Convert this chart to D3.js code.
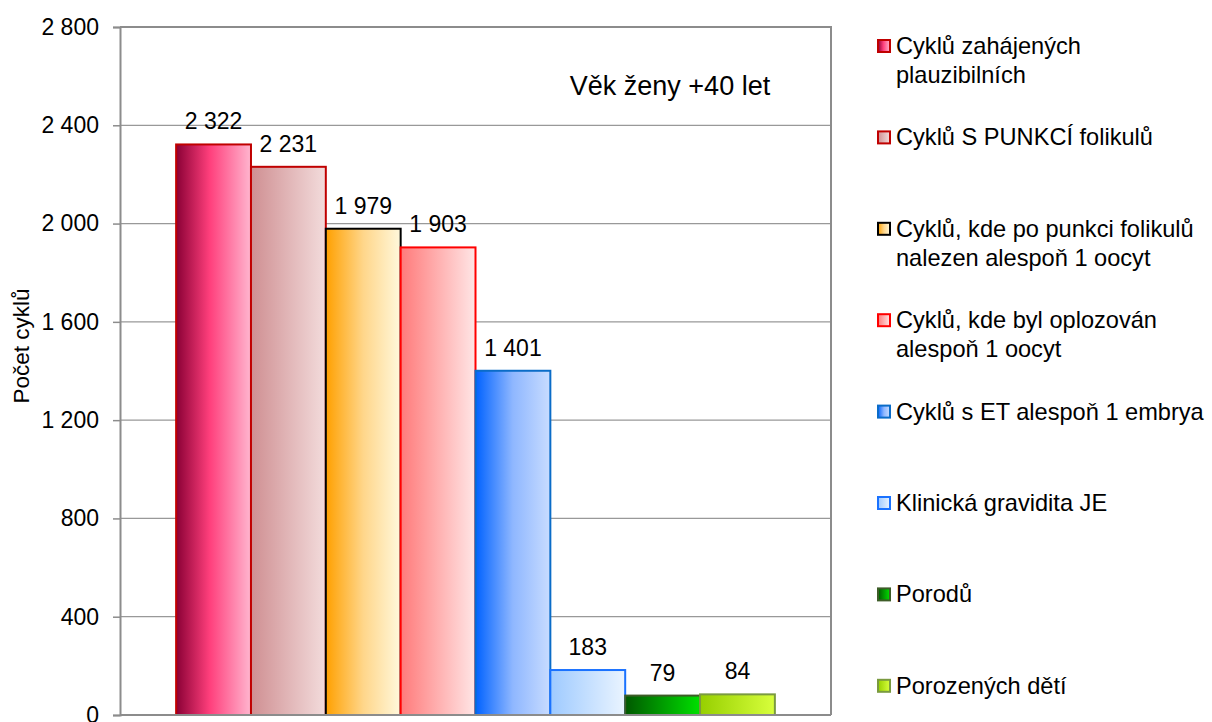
<!DOCTYPE html>
<html>
<head>
<meta charset="utf-8">
<script src="https://cdn.jsdelivr.net/npm/d3@7"></script>
<style>
  html, body { margin: 0; padding: 0; background: #fff; }
  svg { display: block; font-family: "Liberation Sans", Arial, sans-serif; }
</style>
</head>
<body>
<svg id="chart" width="1212" height="722"></svg>
<script>
// ---- data ----
const seriesNames = [
  "Cyklů zahájených plauzibilních",
  "Cyklů S PUNKCÍ folikulů",
  "Cyklů, kde po punkci folikulů nalezen alespoň 1 oocyt",
  "Cyklů, kde byl oplozován alespoň 1 oocyt",
  "Cyklů s ET alespoň 1 embrya",
  "Klinická gravidita JE",
  "Porodů",
  "Porozených dětí"
];
const legendLines = [
  ["Cyklů zahájených", "plauzibilních"],
  ["Cyklů S PUNKCÍ folikulů"],
  ["Cyklů, kde po punkci folikulů", "nalezen alespoň 1 oocyt"],
  ["Cyklů, kde byl oplozován", "alespoň 1 oocyt"],
  ["Cyklů s ET alespoň 1 embrya"],
  ["Klinická gravidita JE"],
  ["Porodů"],
  ["Porozených dětí"]
];
const values = [2322, 2231, 1979, 1903, 1401, 183, 79, 84];
const yTicks = [0, 400, 800, 1200, 1600, 2000, 2400, 2800];
const chartTitle = "Věk ženy +40 let";
const yAxisTitle = "Počet cyklů";

// styles (not data)
const gradStops = [
  [["0", "#8a0035"], ["0.45", "#ff3f7c"], ["1", "#ffb6cf"]],
  [["0", "#cf8f92"], ["1", "#f3dcdc"]],
  [["0", "#ffa000"], ["0.5", "#ffd68a"], ["1", "#fff8dc"]],
  [["0", "#ff7a7a"], ["1", "#ffe6e6"]],
  [["0", "#0062ff"], ["0.5", "#8fb7ff"], ["1", "#c8dcff"]],
  [["0", "#9ecaff"], ["1", "#eaf4ff"]],
  [["0", "#005800"], ["1", "#00e000"]],
  [["0", "#96cf00"], ["1", "#d8ff3c"]]
];
const strokes = ["#c00000", "#c00000", "#000000", "#ff0000", "#0a6cc8", "#1a72ff", "#3e5c28", "#7a9a40"];

const svg = d3.select("#chart");
const plot = { left: 120, right: 831, top: 27, bottom: 715 };

const defs = svg.append("defs");
gradStops.forEach((stops, i) => {
  const g = defs.append("linearGradient").attr("id", "g" + i)
    .attr("x1", "0").attr("y1", "0").attr("x2", "1").attr("y2", "0");
  stops.forEach(s => g.append("stop").attr("offset", s[0]).attr("stop-color", s[1]));
});

const y = d3.scaleLinear().domain([0, 2800]).range([plot.bottom, plot.top]);
const x = d3.scaleBand().domain(seriesNames).range([plot.left, plot.right])
  .paddingInner(0).paddingOuter(0.75);

const loc = d3.formatLocale({ decimal: ",", thousands: "\u00a0", grouping: [3], currency: ["", ""] });
const fmt = loc.format(",d");

// gridlines
svg.append("g").selectAll("line").data(yTicks.filter(d => d > 0)).join("line")
  .attr("x1", plot.left).attr("x2", plot.right)
  .attr("y1", d => y(d)).attr("y2", d => y(d))
  .attr("stroke", "#999").attr("stroke-width", 1.3);

// plot border (top & right)
svg.append("path")
  .attr("d", `M${plot.left},${plot.top}H${plot.right}V${plot.bottom}`)
  .attr("fill", "none").attr("stroke", "#8c8c8c").attr("stroke-width", 2);

// y axis
const yAxis = d3.axisLeft(y).tickValues(yTicks).tickFormat(fmt).tickSize(7).tickPadding(14);
const ya = svg.append("g").attr("transform", `translate(${plot.left},0)`).call(yAxis);
ya.select(".domain").attr("stroke", "#8c8c8c").attr("stroke-width", 2);
ya.selectAll(".tick line").attr("stroke", "#8c8c8c").attr("stroke-width", 1.5);
ya.selectAll(".tick text").attr("font-size", 23).attr("fill", "#000")
  .attr("font-family", "Liberation Sans, Arial, sans-serif");

// bars
svg.append("g").selectAll("rect").data(values).join("rect")
  .attr("x", (d, i) => x(seriesNames[i]))
  .attr("y", d => y(d))
  .attr("width", x.bandwidth())
  .attr("height", d => y(0) - y(d))
  .attr("fill", (d, i) => `url(#g${i})`)
  .attr("stroke", (d, i) => strokes[i])
  .attr("stroke-width", 2);

// x axis baseline
svg.append("line").attr("x1", plot.left).attr("x2", plot.right)
  .attr("y1", y(0)).attr("y2", y(0)).attr("stroke", "#8c8c8c").attr("stroke-width", 2);

// data labels
svg.append("g").selectAll("text").data(values).join("text")
  .attr("x", (d, i) => x(seriesNames[i]) + x.bandwidth() / 2)
  .attr("y", d => y(d) - 15)
  .attr("text-anchor", "middle").attr("font-size", 23).attr("fill", "#000")
  .text(d => fmt(d));

// chart title
svg.append("text").attr("x", 670).attr("y", 95).attr("text-anchor", "middle")
  .attr("font-size", 27).attr("fill", "#000").text(chartTitle);

// y axis title
svg.append("text").attr("transform", "translate(29,346) rotate(-90)")
  .attr("text-anchor", "middle").attr("font-size", 22.5).attr("fill", "#000").text(yAxisTitle);

// legend
const legendY0 = 46, legendStep = 91.4, lineH = 29;
const lg = svg.append("g").selectAll("g").data(legendLines).join("g")
  .attr("transform", (d, i) => `translate(877,${legendY0 + i * legendStep})`);
lg.append("rect").attr("x", 1).attr("y", -6).attr("width", 12).attr("height", 12)
  .attr("fill", (d, i) => `url(#g${i})`)
  .attr("stroke", (d, i) => strokes[i]).attr("stroke-width", 2);
lg.each(function (lines) {
  const t = d3.select(this).append("text").attr("x", 19).attr("y", 8)
    .attr("font-size", 23.6).attr("fill", "#000");
  lines.forEach((l, j) => t.append("tspan").attr("x", 19).attr("dy", j === 0 ? 0 : lineH).text(l));
});
</script>
</body>
</html>
